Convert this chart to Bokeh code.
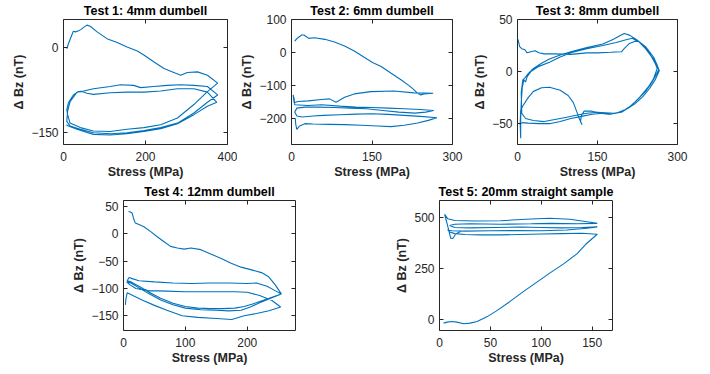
from bokeh.plotting import figure
from bokeh.layouts import row, column, Spacer
from bokeh.models import LinearAxis, FixedTicker, Range1d, CustomLabelingPolicy
from bokeh.embed import file_html
from bokeh.resources import INLINE

# ---------------- data (stress in MPa, delta Bz in nT) ----------------
t1_stress = [8, 12, 20, 24, 29, 37, 42, 49, 57, 65, 82, 106, 131, 155, 180, 196, 220, 245, 269, 286, 302, 327, 351, 376,
             351, 318, 278, 237, 196, 155, 114, 73, 41, 16, 10, 8,
             12, 24, 37, 49, 73, 114, 139, 171, 188, 220, 253, 286, 318, 351, 376,
             351, 318, 278, 237, 196, 155, 114, 73, 41, 16, 8,
             10, 16, 33, 45, 57, 73, 114, 155, 196, 237, 278, 318, 351, 374,
             351, 318, 278, 237, 196, 155, 114, 73, 33, 12, 7]
t1_dbz = [-2, 7, 22, 29, 28, 30, 32, 36, 40, 38, 28, 16, 9, 1, -6, -13, -25, -37, -44, -49, -44, -43, -49, -63,
          -78, -101, -125, -137, -142, -145, -149, -148, -142, -134, -119, -110,
          -98, -84, -78, -77, -73, -69, -66, -67, -71, -69, -67, -66, -67, -69, -84,
          -97, -116, -134, -142, -147, -151, -153, -151, -145, -139, -131,
          -113, -96, -79, -78, -81, -83, -80, -79, -79, -77, -73, -73, -79, -97,
          -104, -119, -135, -144, -149, -153, -155, -154, -145, -139, -137]

t2_stress = [6, 12, 19, 23, 28, 32, 43, 62, 80, 99, 117, 136, 151, 167, 185, 204, 219, 228, 234, 241, 247, 264,
             228, 191, 148, 117, 99, 83, 71, 56, 31, 12, 5, 3, 5, 6,
             31, 56, 90, 120, 150, 180, 210, 240, 265,
             250, 230, 200, 170, 140, 110, 80, 50, 25, 10, 6,
             10, 20, 40, 60, 90, 120, 150, 180, 210, 240, 271,
             255, 235, 210, 185, 160, 130, 100, 70, 40, 25, 15, 10, 8, 7]
t2_dbz = [35, 45, 53, 53, 48, 43, 45, 40, 32, 20, 5, -15, -30, -42, -62, -82, -100, -112, -122, -128, -125, -123,
          -122, -116, -118, -125, -135, -150, -140, -142, -146, -148, -152, -128, -140, -158,
          -160, -158, -162, -165, -166, -168, -170, -172, -175,
          -180, -183, -180, -175, -170, -168, -166, -165, -165, -168, -180,
          -192, -195, -192, -190, -188, -186, -185, -187, -190, -193, -197,
          -205, -213, -220, -224, -222, -220, -218, -217, -216, -215, -222, -232, -218, -200]

t3_stress = [1, 4, 8, 14, 18, 25, 33, 40, 50, 70, 100, 130, 150, 175, 195, 200, 210, 225, 240, 255, 262, 265,
             258, 250, 240, 225, 210, 195, 180, 165, 150, 130, 110, 90, 70, 50, 30, 15, 8,
             7, 10, 14, 20, 30, 45, 60, 80, 100, 130, 160, 180, 190, 200, 210, 225, 240, 255, 262,
             255, 245, 230, 215, 200, 185, 170, 155, 140, 125, 120, 118, 121, 115, 105, 95, 80, 60, 45, 30, 20, 10, 6, 5, 6,
             6, 7, 9, 12, 15, 18, 25, 40, 60, 80, 100, 130, 160, 185, 200, 215, 230, 245, 258, 266,
             258, 248, 235, 220, 205, 190, 175, 160, 140, 120, 100, 80, 60, 40, 20, 8]
t3_dbz = [31, 24, 22, 21, 18, 19, 20, 18, 17, 17, 16.5, 18, 18, 18.5, 19, 22, 27, 30, 24, 14, 6, 2,
          -5, -12, -19, -27, -34, -39, -40, -39.5, -39, -40, -42, -44, -46, -48, -47, -45, -40,
          -20, -8, -6, -2, 3, 8, 12, 16, 19, 23, 26.5, 31, 34, 36.5, 35, 30, 22, 12, 3,
          -7, -15, -24, -32, -37, -40, -41, -40, -38, -38, -42, -48, -51, -44, -30, -23, -18, -15, -15.5, -19, -25, -33, -37, -50, -64,
          -45, -30, -15, -8, -10, -5, 0, 5, 9, 14, 18, 22, 25, 28, 30, 32, 28, 20, 8, 1,
          -8, -16, -24, -31, -36, -39, -41, -40, -41, -43, -45, -48, -50, -50, -49.5, -49]

t4_stress = [8, 11, 14, 16, 19, 25, 33, 44, 54, 65, 76, 87, 98, 109, 125, 141, 158, 174, 190, 207, 223, 234, 245, 255,
             240, 225, 210, 195, 180, 160, 140, 120, 100, 80, 60, 40, 25, 12, 6,
             9, 14, 25, 50, 80, 110, 140, 170, 200, 215, 232, 245, 255,
             238, 220, 205, 190, 170, 150, 125, 100, 80, 60, 40, 25, 12, 5,
             10, 20, 40, 70, 100, 140, 180, 200, 220, 240, 254,
             235, 215, 195, 175, 150, 120, 95, 70, 50, 30, 15, 6, 4, 3]
t4_dbz = [41, 40, 38, 29, 20, 17, 13, 4, -5, -14, -23, -26, -28, -26, -29, -37, -45, -54, -61, -66, -71, -78, -93, -110,
          -116, -122, -128, -133, -136, -137, -137, -136, -133, -127, -118, -106, -96, -88, -86,
          -80, -82, -86, -88, -90, -91, -90, -90, -91, -90, -96, -104, -110,
          -118, -126, -134, -140, -141, -140, -139, -136, -130, -121, -109, -99, -90, -88,
          -93, -100, -104, -105, -106, -106, -106, -107, -113, -122, -134,
          -141, -146, -150, -157, -155, -153, -150, -140, -131, -121, -113, -108, -118, -130]

t5_stress = [4, 7.5, 12, 17, 24, 30, 37, 47, 56, 69, 82, 95, 109, 122, 135, 144, 155,
             140, 120, 100, 80, 60, 40, 25, 15, 10, 8,
             12, 25, 50, 75, 100, 125, 145, 155,
             140, 120, 100, 80, 55, 30, 15, 10,
             15, 30, 60, 90, 110, 135, 155,
             145, 128, 108, 85, 60, 35, 15, 8, 5,
             7, 9, 11, 13, 16, 22]
t5_dbz = [-16, -11, -8, -11, -19, -16, -8, 16, 44, 89, 137, 182, 231, 274, 323, 371, 419,
          424, 422, 420, 418, 416, 416, 418, 422, 430, 440,
          436, 434, 436, 437, 436, 440, 448, 455,
          452, 450, 452, 454, 452, 450, 452, 462,
          468, 470, 468, 470, 472, 470, 472,
          480, 492, 497, 492, 485, 484, 486, 495, 516,
          480, 440, 400, 398, 420, 436]

titles = ["Test 1: 4mm dumbell", "Test 2: 6mm dumbell", "Test 3: 8mm dumbell",
          "Test 4: 12mm dumbell", "Test 5: 20mm straight sample"]
x_ticks = [[0, 200, 400], [0, 150, 300], [0, 150, 300], [0, 100, 200], [0, 50, 100, 150]]
y_ticks = [[-150, 0], [-200, -100, 0, 100], [-50, 0, 50], [-150, -100, -50, 0, 50], [0, 250, 500]]
x_ranges = [(0, 400), (0, 300), (0, 300), (0, 278), (0, 170)]
y_ranges = [(-172, 50), (-278, 100), (-70, 50), (-177, 61), (-52, 584)]

FONT = "Liberation Sans"
LINE = "#0072BD"
AX = "#262626"


def make(i, xs, ys, w, h, bl, br, bt, bb):
    p = figure(width=w, height=h, x_range=Range1d(*x_ranges[i]), y_range=Range1d(*y_ranges[i]),
               output_backend="svg", toolbar_location=None,
               min_border_left=bl, min_border_right=br, min_border_top=bt, min_border_bottom=bb,
               title=titles[i])
    p.title.align = "center"
    p.title.text_font = FONT
    p.title.text_font_size = "12.5px"
    p.title.text_font_style = "bold"
    p.title.text_color = "#000000"
    p.title.standoff = 3
    p.xgrid.visible = False
    p.ygrid.visible = False
    p.outline_line_color = AX
    p.outline_line_width = 1
    p.background_fill_color = "white"
    p.border_fill_color = "white"
    p.xaxis.ticker = FixedTicker(ticks=x_ticks[i])
    p.yaxis.ticker = FixedTicker(ticks=y_ticks[i])
    for ax in (p.xaxis[0], p.yaxis[0]):
        ax.axis_line_color = None
        ax.major_tick_in = 4
        ax.major_tick_out = 0
        ax.major_tick_line_color = AX
        ax.minor_tick_line_color = None
        ax.major_label_text_font = FONT
        ax.major_label_text_font_size = "12px"
        ax.major_label_text_color = AX
        ax.axis_label_text_font = FONT
        ax.axis_label_text_font_size = "12.5px"
        ax.axis_label_text_font_style = "bold"
        ax.axis_label_text_color = AX
    p.xaxis.axis_label = "Stress (MPa)"
    p.yaxis.axis_label = "Δ Bz (nT)"
    p.xaxis.major_label_standoff = 7
    p.xaxis.axis_label_standoff = 1
    p.yaxis.major_label_standoff = 5
    p.yaxis.axis_label_standoff = 2
    # mirrored ticks (box on), without labels
    for loc, t in (("right", y_ticks[i]), ("above", x_ticks[i])):
        ax = LinearAxis(ticker=FixedTicker(ticks=t), axis_line_color=None, major_tick_in=4, major_tick_out=0,
                        major_tick_line_color=AX, minor_tick_line_color=None,
                        major_label_text_font_size="0px", major_label_standoff=0,
                        major_label_policy=CustomLabelingPolicy(code="return []"))
        p.add_layout(ax, loc)
    p.line(xs, ys, line_color=LINE, line_width=1.1)
    return p


p1 = make(0, t1_stress, t1_dbz, 237, 181, 63, 10, 18, 36)
p2 = make(1, t2_stress, t2_dbz, 233, 181, 52, 18, 18, 36)
p3 = make(2, t3_stress, t3_dbz, 240, 181, 45, 33, 18, 36)
p4 = make(3, t4_stress, t4_dbz, 332, 193, 63, 97, 18, 44)
p5 = make(4, t5_stress, t5_dbz, 318, 193, 47, 98, 18, 44)

layout = column(row(p1, p2, p3), row(Spacer(width=60, height=193), p4, p5))

open("out.html", "w").write(file_html(layout, INLINE))
